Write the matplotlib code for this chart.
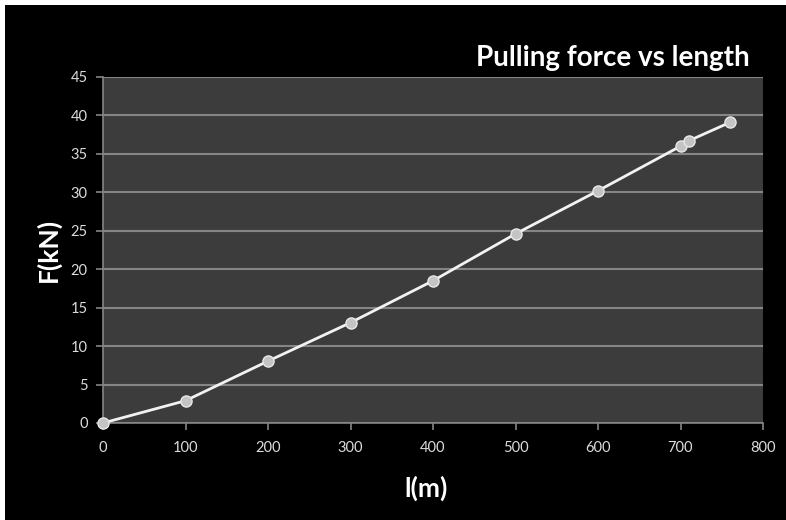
import matplotlib.pyplot as plt
from matplotlib.patches import Rectangle

# data
length_m = [0, 100, 200, 300, 400, 500, 600, 700, 710, 760]
force_kn = [0, 2.9, 8.05, 13.05, 18.5, 24.6, 30.2, 36.0, 36.7, 39.1]

x_ticks = [0, 100, 200, 300, 400, 500, 600, 700, 800]
y_ticks = [0, 5, 10, 15, 20, 25, 30, 35, 40, 45]

plt.rcParams['font.family'] = ['Lato', 'DejaVu Sans']

fig = plt.figure(figsize=(7.86, 5.2), dpi=100)
fig.patch.set_facecolor('white')
# black slide background with thin white margin top/left
fig.patches.append(Rectangle((5 / 786, 0), 1, 1 - 5 / 520, transform=fig.transFigure,
                             facecolor='black', edgecolor='none', zorder=-10))

ax = fig.add_axes([103 / 786, 1 - 423 / 520, 660 / 786, 346 / 520])
ax.set_zorder(1)
ax.set_facecolor('#3c3c3c')

ax.plot(length_m, force_kn, color='#f2f2f2', lw=2, marker='o', ms=8,
        mfc='#c4c4c4', mec='#e8e8e8', mew=1, clip_on=False, zorder=3)

ax.set_xlim(0, 800)
ax.set_ylim(0, 45)
ax.set_xticks(x_ticks)
ax.set_yticks(y_ticks)
ax.yaxis.grid(True, color='#858585', lw=1.5)
ax.set_axisbelow(True)

for s in ['top', 'right']:
    ax.spines[s].set_visible(False)
for s in ['left', 'bottom']:
    ax.spines[s].set_color('#858585')
    ax.spines[s].set_linewidth(1.2)

ax.tick_params(colors='#858585', labelcolor='#dcdcdc', labelsize=10.5,
               length=5, width=1.2, direction='out')
ax.tick_params(axis='x', pad=8)
ax.tick_params(axis='y', pad=6)

ax.set_xlabel('l(m)', color='white', fontsize=19, fontweight='bold')
ax.set_ylabel('F(kN)', color='white', fontsize=19, fontweight='bold')
ax.xaxis.set_label_coords(0.49, -0.19)
ax.yaxis.set_label_coords(-0.083, 0.5)
ax.xaxis.label.set_va('center')
ax.yaxis.label.set_va('center')

fig.text(750 / 786, 1 - 58 / 520, 'Pulling force vs length', color='white',
         fontsize=20, fontweight='bold', ha='right', va='center', zorder=2)

fig.savefig('out.png', dpi=100, facecolor=fig.get_facecolor())
